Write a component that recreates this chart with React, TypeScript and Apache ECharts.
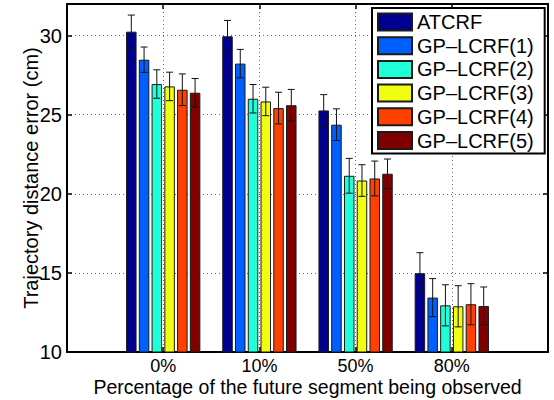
import React, { useEffect, useRef } from 'react';
import * as echarts from 'echarts';

// ---- data ----
const categories = ['0%', '10%', '50%', '80%'];
const seriesNames = ['ATCRF', 'GP–LCRF(1)', 'GP–LCRF(2)', 'GP–LCRF(3)', 'GP–LCRF(4)', 'GP–LCRF(5)'];

const atcrf = [30.25, 29.96, 25.27, 14.98];
const gp1 = [28.48, 28.23, 24.37, 13.44];
const gp2 = [26.94, 26.01, 21.14, 12.95];
const gp3 = [26.79, 25.84, 20.84, 12.89];
const gp4 = [26.58, 25.42, 20.97, 13.02];
const gp5 = [26.39, 25.6, 21.27, 12.91];

const atcrfErr = [1.05, 1.0, 1.0, 1.3];
const gp1Err = [0.8, 0.9, 1.0, 1.2];
const gp2Err = [0.9, 0.9, 1.1, 1.3];
const gp3Err = [0.9, 0.9, 1.0, 1.3];
const gp4Err = [1.0, 1.0, 1.1, 1.3];
const gp5Err = [0.9, 1.0, 0.93, 1.2];

const yMin = 10;
const yMax = 32;
const yInterval = 5;

const colors = ['#000090', '#0060FF', '#20FFD8', '#F0FF10', '#FF4000', '#800000'];

export default function App() {
  const ref = useRef<HTMLDivElement>(null);

  useEffect(() => {
    if (!ref.current) return;
    const chart = echarts.init(ref.current, null, { renderer: 'svg' });
    const values = [atcrf, gp1, gp2, gp3, gp4, gp5];
    const errs = [atcrfErr, gp1Err, gp2Err, gp3Err, gp4Err, gp5Err];
    const axisCats = ['', ...categories, ''];
    const font = '"Liberation Sans", Arial, Helvetica, sans-serif';
    const BAR_W = 10.5;
    const GAP = 0.215;
    const n = values.length;
    const pitch = BAR_W * (1 + GAP);

    const barSeries = seriesNames.map((name, i) => ({
      type: 'bar',
      name,
      xAxisIndex: 0,
      yAxisIndex: 0,
      data: [null, ...values[i], null],
      barWidth: BAR_W,
      barGap: `${GAP * 100}%`,
      itemStyle: { color: colors[i], borderColor: '#1a1a1a', borderWidth: 1 },
      emphasis: { disabled: true },
      z: 2,
    }));

    const errSeries = seriesNames.map((name, i) => ({
      type: 'custom',
      name: name + ' err',
      xAxisIndex: 0,
      yAxisIndex: 0,
      silent: true,
      z: 3,
      data: values[i].map((v, j) => [j + 1, v - errs[i][j], v + errs[i][j]]),
      encode: { x: 0, y: [1, 2] },
      renderItem: (_params: any, api: any) => {
        const c = api.value(0);
        const lo = api.coord([c, api.value(1)]);
        const hi = api.coord([c, api.value(2)]);
        const x = lo[0] + (i - (n - 1) / 2) * pitch;
        const cap = 3.5;
        const style = { stroke: '#111', lineWidth: 1 };
        return {
          type: 'group',
          children: [
            { type: 'line', shape: { x1: x, y1: lo[1], x2: x, y2: hi[1] }, style },
            { type: 'line', shape: { x1: x - cap, y1: lo[1], x2: x + cap, y2: lo[1] }, style },
            { type: 'line', shape: { x1: x - cap, y1: hi[1], x2: x + cap, y2: hi[1] }, style },
          ],
        };
      },
    }));

    const dotted = { type: [1, 3], color: '#666', width: 1 };
    const axisLine = { show: true, onZero: false, lineStyle: { color: '#000', width: 2 } };
    const tick = { show: true, inside: true, length: 5, lineStyle: { color: '#000', width: 1.5 } };

    chart.setOption({
      animation: false,
      backgroundColor: '#fff',
      textStyle: { fontFamily: font },
      grid: { left: 67, right: 6, top: 4, bottom: 48, containLabel: false, outerBoundsMode: 'none' },
      legend: {
        data: seriesNames,
        orient: 'vertical',
        left: 372,
        top: 8,
        itemWidth: 34,
        itemHeight: 17,
        itemGap: 3.7,
        padding: [4, 11, 3, 5],
        backgroundColor: '#fff',
        borderColor: '#000',
        borderWidth: 2,
        icon: 'rect',
        selectedMode: false,
        textStyle: { fontSize: 20, fontFamily: font, color: '#000' },
        z: 10,
      },
      xAxis: [
        {
          type: 'category',
          data: axisCats,
          boundaryGap: false,
          position: 'bottom',
          axisLine,
          axisTick: { ...tick, interval: 0 },
          axisLabel: { interval: 0, fontSize: 18, lineHeight: 16, color: '#000', fontFamily: font, margin: 5.5 },
          splitLine: { show: true, interval: 0, lineStyle: dotted },
          name: 'Percentage of the future segment being observed',
          nameLocation: 'middle',
          nameGap: 26,
          nameMoveOverlap: false,
          nameTextStyle: { fontSize: 19.5, lineHeight: 18, color: '#000', fontFamily: font },
        },
        {
          type: 'category',
          data: axisCats,
          boundaryGap: false,
          position: 'top',
          axisLine,
          axisTick: { ...tick, interval: 0 },
          axisLabel: { show: false },
          splitLine: { show: false },
        },
      ],
      yAxis: [
        {
          type: 'value',
          min: yMin,
          max: yMax,
          interval: yInterval,
          position: 'left',
          axisLine,
          axisTick: tick,
          axisLabel: { fontSize: 20, color: '#000', fontFamily: font, margin: 5, showMaxLabel: false },
          splitLine: { show: true, lineStyle: dotted },
          name: 'Trajectory distance error (cm)',
          nameLocation: 'middle',
          nameGap: 26,
          nameMoveOverlap: false,
          nameTextStyle: { fontSize: 20, color: '#000', fontFamily: font },
        },
        {
          type: 'value',
          min: yMin,
          max: yMax,
          interval: yInterval,
          position: 'right',
          axisLine,
          axisTick: tick,
          axisLabel: { show: false },
          splitLine: { show: false },
        },
      ],
      series: [...barSeries, ...errSeries],
    });

    return () => chart.dispose();
  }, []);

  return (
    <div
      ref={ref}
      style={{ position: 'fixed', left: 0, top: 0, width: 554, height: 400, background: '#fff' }}
    />
  );
}
